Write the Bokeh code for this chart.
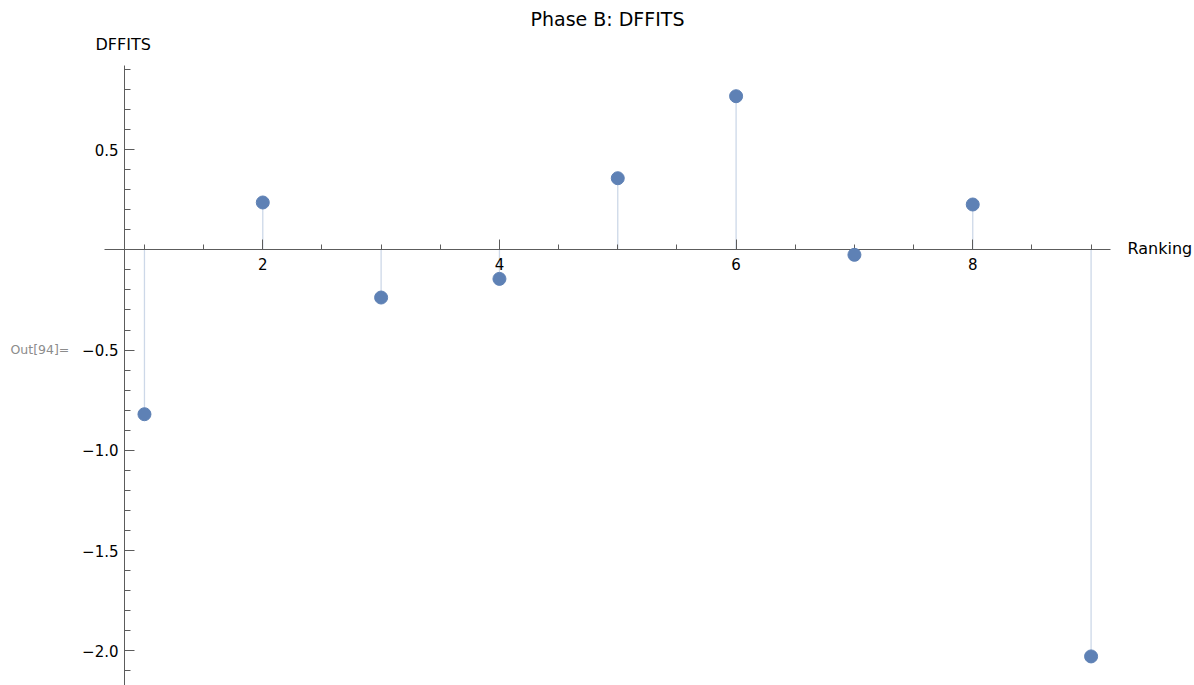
from bokeh.plotting import figure
from bokeh.models import (LinearAxis, FixedTicker, CustomJSTickFormatter,
                          Range1d, Label, ColumnDataSource)
from bokeh.embed import file_html
from bokeh.resources import INLINE

# DFFITS influence values by ranking
ranking = [1, 2, 3, 4, 5, 6, 7, 8, 9]
dffits = [-0.820, 0.236, -0.238, -0.145, 0.357, 0.766, -0.025, 0.226, -2.028]

# tick positions
x_major = [2, 4, 6, 8]
x_minor = [1.0, 1.5, 2.0, 2.5, 3.0, 3.5, 4.0, 4.5, 5.0, 5.5, 6.0, 6.5,
           7.0, 7.5, 8.0, 8.5, 9.0]
y_major = [-2.0, -1.5, -1.0, -0.5, 0.0, 0.5]
y_minor = [-2.1, -2.0, -1.9, -1.8, -1.7, -1.6, -1.5, -1.4, -1.3, -1.2, -1.1,
           -1.0, -0.9, -0.8, -0.7, -0.6, -0.5, -0.4, -0.3, -0.2, -0.1, 0.0,
           0.1, 0.2, 0.3, 0.4, 0.5, 0.6, 0.7, 0.8, 0.9]

W, H = 1194, 685
X0, X1 = -0.2166, 9.874
Y0, Y1 = -2.173, 1.2434

FONT = "DejaVu Sans"
AXIS_COLOR = "#5c5c5c"
POINT_COLOR = "#5e81b5"
STEM_COLOR = "#cdd8e8"


def px_x(px):
    return X0 + (X1 - X0) * px / W


def px_y(py):
    return Y1 - (Y1 - Y0) * py / H


p = figure(width=W, height=H, x_range=Range1d(X0, X1), y_range=Range1d(Y0, Y1),
           output_backend="svg", toolbar_location=None, min_border=0,
           x_axis_type=None, y_axis_type=None)
p.outline_line_color = None
p.background_fill_color = "white"
p.border_fill_color = "white"

src = ColumnDataSource(dict(ranking=ranking, dffits=dffits))

# stems down/up to the axis, then the points on top
p.segment(x0="ranking", y0=0, x1="ranking", y1="dffits", source=src,
          line_color=STEM_COLOR, line_width=1.3)
pts = p.scatter("ranking", "dffits", source=src, size=13,
                fill_color=POINT_COLOR, line_color=POINT_COLOR)
pts.level = "overlay"

xaxis = LinearAxis(fixed_location=0, bounds=(px_x(104), px_x(1110)),
                   ticker=FixedTicker(ticks=x_major, minor_ticks=x_minor),
                   formatter=CustomJSTickFormatter(code="return tick.toFixed(0)"))
xaxis.axis_line_color = AXIS_COLOR
xaxis.major_tick_line_color = AXIS_COLOR
xaxis.minor_tick_line_color = AXIS_COLOR
xaxis.major_tick_in = 10
xaxis.major_tick_out = 0
xaxis.minor_tick_in = 5
xaxis.minor_tick_out = 0
xaxis.major_label_standoff = 8
xaxis.major_label_text_font = FONT
xaxis.major_label_text_font_size = "15px"
xaxis.major_label_text_color = "black"
p.add_layout(xaxis, "below")

yaxis = LinearAxis(fixed_location=px_x(124), bounds=(Y0, px_y(65)),
                   ticker=FixedTicker(ticks=y_major, minor_ticks=y_minor),
                   formatter=CustomJSTickFormatter(code="""
                       if (Math.abs(tick) < 1e-9) return "";
                       const s = Math.abs(tick).toFixed(1);
                       return tick < 0 ? "\\u2212" + s : s;
                   """))
yaxis.axis_line_color = AXIS_COLOR
yaxis.major_tick_line_color = AXIS_COLOR
yaxis.minor_tick_line_color = AXIS_COLOR
yaxis.major_tick_in = 10
yaxis.major_tick_out = 0
yaxis.minor_tick_in = 6
yaxis.minor_tick_out = 0
yaxis.major_label_standoff = 6
yaxis.major_label_text_font = FONT
yaxis.major_label_text_font_size = "15px"
yaxis.major_label_text_color = "black"
p.add_layout(yaxis, "left")

p.add_layout(Label(x=px_x(607), y=px_y(18), text="Phase B: DFFITS",
                   text_font=FONT, text_font_size="19px", text_color="black",
                   text_align="center", text_baseline="middle"))
p.add_layout(Label(x=px_x(95), y=px_y(44), text="DFFITS",
                   text_font=FONT, text_font_size="16px", text_color="black",
                   text_align="left", text_baseline="middle"))
p.add_layout(Label(x=px_x(1127), y=px_y(248), text="Ranking",
                   text_font=FONT, text_font_size="16px", text_color="black",
                   text_align="left", text_baseline="middle"))
p.add_layout(Label(x=px_x(10), y=px_y(349), text="Out[94]=",
                   text_font=FONT, text_font_size="12.5px", text_color="#8c8c8c",
                   text_align="left", text_baseline="middle"))

open("out.html", "w").write(file_html(p, INLINE))
